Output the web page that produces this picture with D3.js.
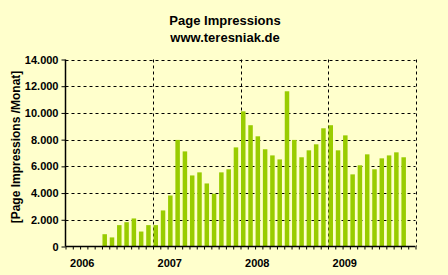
<!DOCTYPE html>
<html>
<head>
<meta charset="utf-8">
<script src="https://cdn.jsdelivr.net/npm/d3@7"></script>
<style>
  body { margin: 0; background: #ffffcc; }
  svg text { font-family: "Liberation Sans", Arial, sans-serif; font-weight: bold; fill: #000; }
</style>
</head>
<body>
<svg id="chart" width="448" height="275"></svg>
<script>
// Monate Jan 2006 .. Dez 2009 (48 Kategorien)
const years = ["2006", "2007", "2008", "2009"]
const months = d3.range(48)
// Page Impressions je Monat (null = kein Wert)
const impressions = [
    null, null, null, null, null, 920, 680, 1600, 1820, 2100, 1120, 1600, // 2006
    1600, 2700, 3820, 7980, 7120, 5320, 5550, 4720, 3950, 5550, 5780, 7420, // 2007
    10120, 9080, 8250, 7280, 6820, 6520, 11620, 7980, 6680, 7200, 7650, 8850, // 2008
    9080, 7200, 8320, 5400, 6080, 6900, 5780, 6600, 6820, 7050, 6680, null // 2009
]
const yTicks = [0, 2000, 4000, 6000, 8000, 10000, 12000, 14000]

const svg = d3.select("#chart")
const LEFT = 65.5, RIGHT = 415.5, TOP = 59.5, BOTTOM = 246.5

let xs = d3.scaleBand()
    .domain(months)
    .range([LEFT, RIGHT])
    .padding(0)
const bw = xs.bandwidth()

let ys = d3.scaleLinear()
    .domain([0, 14000])
    .range([BOTTOM, TOP])

const fmt = d => d3.format(",")(d).replace(/,/g, ".")

// Titel
svg.append("text")
    .attr("x", 225).attr("y", 25)
    .attr("text-anchor", "middle")
    .style("font-size", "13px")
    .text("Page Impressions")
svg.append("text")
    .attr("x", 225).attr("y", 42)
    .attr("text-anchor", "middle")
    .style("font-size", "13px")
    .text("www.teresniak.de")

// horizontale Gitterlinien
svg.append("g")
    .selectAll("line")
    .data(yTicks.filter(d => d > 0))
    .enter()
    .append("line")
    .attr("x1", LEFT).attr("x2", RIGHT)
    .attr("y1", d => Math.round(ys(d)) + 0.5)
    .attr("y2", d => Math.round(ys(d)) + 0.5)
    .style("stroke", "#000")
    .style("stroke-dasharray", "3,3")

// vertikale Gitterlinien an Jahresgrenzen
svg.append("g")
    .selectAll("line")
    .data([12, 24, 36, 48])
    .enter()
    .append("line")
    .attr("x1", d => Math.round(d === 48 ? RIGHT : xs(d)) + 0.5)
    .attr("x2", d => Math.round(d === 48 ? RIGHT : xs(d)) + 0.5)
    .attr("y1", TOP).attr("y2", BOTTOM)
    .style("stroke", "#000")
    .style("stroke-dasharray", "3,3")

// Balken
svg.append("g")
    .selectAll("rect")
    .data(impressions.map((v, i) => ({ m: i, v: v })).filter(d => d.v !== null))
    .enter()
    .append("rect")
    .attr("x", d => xs(d.m) + 0.5)
    .attr("width", 4.5)
    .attr("y", d => ys(d.v))
    .attr("height", d => BOTTOM - ys(d.v))
    .style("fill", "#99cc00")

// y-Achse
let yAxis = svg.append("g")
    .attr("transform", `translate(${LEFT},0)`)
    .call(d3.axisLeft(ys).tickValues(yTicks).tickFormat(fmt).tickSize(4).tickPadding(3))
yAxis.select(".domain").attr("d", `M0,${TOP}V${BOTTOM}`).style("stroke-width", 1.5)
yAxis.selectAll("text").style("font-size", "11px").style("font-family", "\"Liberation Sans\", Arial, sans-serif")

// x-Achse: Monatsstriche
let xTick = d3.scaleLinear().domain([0, 48]).range([LEFT, RIGHT])
let xAxis = svg.append("g")
    .attr("transform", `translate(0,${BOTTOM})`)
    .call(d3.axisBottom(xTick).tickValues(d3.range(49)).tickFormat("").tickSize(3))
xAxis.select(".domain").attr("d", `M${LEFT},0H${RIGHT}`).style("stroke-width", 1.5)

// Jahresbeschriftung
svg.append("g")
    .selectAll("text")
    .data(years)
    .enter()
    .append("text")
    .attr("x", (d, i) => xs(i * 12) + 2.3 * bw)
    .attr("y", 267)
    .attr("text-anchor", "middle")
    .style("font-size", "11px")
    .text(d => d)

// y-Achsentitel
svg.append("text")
    .attr("transform", "translate(20,147) rotate(-90)")
    .attr("text-anchor", "middle")
    .style("font-size", "12px")
    .text("[Page Impressions /Monat]")
</script>
</body>
</html>
